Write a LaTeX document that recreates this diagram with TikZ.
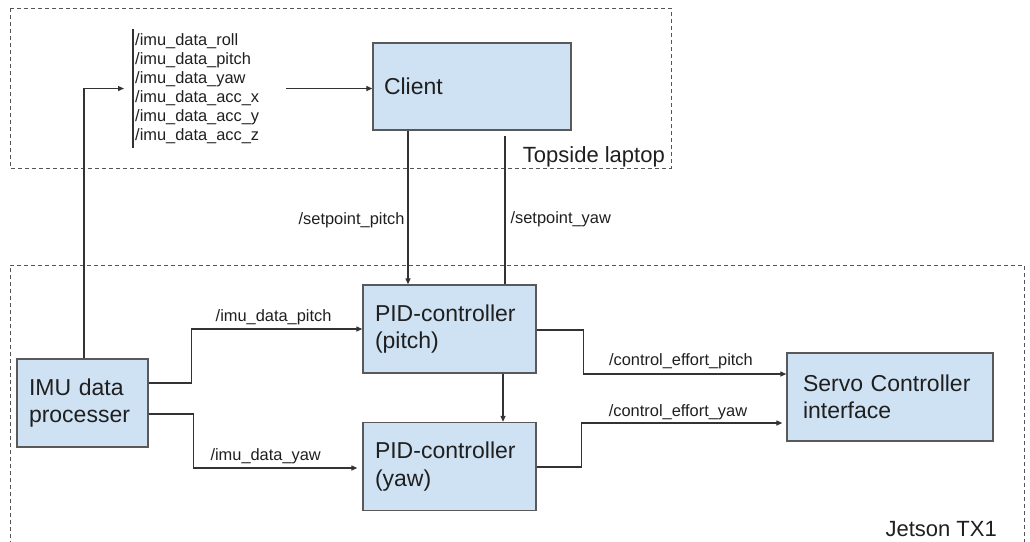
\documentclass[tikz,border=0pt]{standalone}
\usepackage{fontspec}
\setmainfont{Liberation Sans}
\usetikzlibrary{arrows.meta,calc}
\definecolor{boxfill}{HTML}{CFE2F3}
\definecolor{boxline}{HTML}{595959}
\definecolor{wirecol}{HTML}{333333}
\definecolor{dashcol}{HTML}{555555}
\definecolor{txtcol}{HTML}{1F1F1F}
\begin{document}
\begin{tikzpicture}[x=1pt,y=-1pt,
  blk/.style={draw=boxline,fill=boxfill,line width=1.3pt,rectangle,inner xsep=11pt,inner ysep=0pt,
    align=left,font=\fontsize{23}{27.5}\selectfont,text=txtcol},
  wire/.style={draw=wirecol,line width=1.2pt},
  arr/.style={wire,-{Triangle[length=6pt,width=5pt]}},
  lbl/.style={font=\fontsize{16.4}{19.1}\selectfont,text=txtcol,inner sep=0pt},
  grp/.style={draw=dashcol,line width=1pt,dash pattern=on 4pt off 3pt},
  grplbl/.style={font=\fontsize{22}{26}\selectfont,text=txtcol,inner sep=0pt}]
\useasboundingbox (0,0) rectangle (1030,541);

% group frames
\draw[grp] (10,8) rectangle (671,168);
\draw[grp] (10,545) -- (10,265) -- (1024,265) -- (1024,545);
\node[grplbl,anchor=base east] (toplbl) at (665,162) {Topside laptop};
\node[grplbl,anchor=base east] (jetlbl) at (997,536.5) {Jetson TX1};

% blocks
\node[blk,minimum width=198pt,minimum height=87pt,text width=176pt] (client) at (472,86.5) {Client};
\node[blk,inner xsep=12pt,minimum width=173pt,minimum height=88pt,text width=149pt] (pidp) at (449.5,329) {PID-controller\\(pitch)};
\node[blk,inner xsep=12pt,minimum width=173pt,minimum height=88pt,text width=149pt] (pidy) at (449.5,466.5) {PID-controller\\(yaw)};
\node[blk,inner xsep=12pt,minimum width=131pt,minimum height=88pt,text width=107pt] (imu) at (82.5,403) {IMU data\\processer};
\node[blk,inner xsep=16pt,minimum width=206pt,minimum height=88pt,text width=174pt] (servo) at (890,397) {Servo Controller\\interface};

% topic list
\node[lbl,align=left,anchor=north west,inner xsep=2pt,inner ysep=4pt] (topics) at (133,29)
  {/imu\_data\_roll\\/imu\_data\_pitch\\/imu\_data\_yaw\\/imu\_data\_acc\_x\\/imu\_data\_acc\_y\\/imu\_data\_acc\_z};
\draw[wire] (topics.north west) -- (topics.south west);

\coordinate (upx) at (84,0);
\coordinate (spx) at (408,0);
\coordinate (syx) at (505,0);
\coordinate (pyx) at (503,0);

% connectors
\draw[arr] (imu.north -| upx) |- ([xshift=-9pt]topics.west);
\draw[arr] ([xshift=25pt]topics.east) -- (topics.east -| client.west);
\draw[arr] (client.south -| spx) -- (pidp.north -| spx)
  node[lbl,pos=0.58,left=3pt] {/setpoint\_pitch};
\draw[wire] ($(client.south -| syx)+(0,5)$) -- (pidp.north -| syx)
  node[lbl,pos=0.56,right=5pt] {/setpoint\_yaw};
\draw[arr] ($(imu.east)+(0,-20)$) -- ++(43,0) |- (pidp.west)
  node[lbl,pos=0.74,above=4pt] {/imu\_data\_pitch};
\draw[arr] ($(imu.east)+(0,11)$) -- ++(45,0) |- ($(pidy.west)+(-5,1.5)$)
  node[lbl,pos=0.72,above=4pt] {/imu\_data\_yaw};
\draw[arr] (pidp.south -| pyx) -- (pidy.north -| pyx);
\draw[arr] ($(pidp.east)+(0,1)$) -- ++(47,0) |- ($(servo.west)+(0,-23)$)
  node[lbl,pos=0.74,above=5pt] {/control\_effort\_pitch};
\draw[arr] ($(pidy.east)+(0,0.5)$) -- ++(45,0) |- ($(servo.west)+(-4,26)$)
  node[lbl,pos=0.74,above=3pt] {/control\_effort\_yaw};
\end{tikzpicture}
\end{document}
